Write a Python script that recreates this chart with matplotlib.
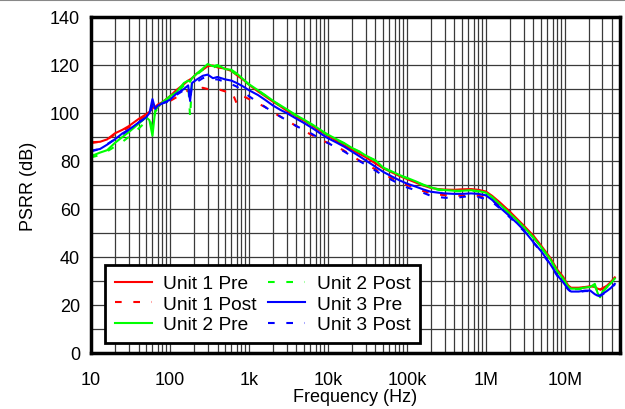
import matplotlib
matplotlib.use("Agg")
import matplotlib.pyplot as plt
from matplotlib.lines import Line2D
from matplotlib.ticker import FixedLocator, NullFormatter, LogLocator

plt.rcParams['font.family'] = ['Liberation Sans', 'DejaVu Sans']

freq = [10, 13, 16, 20, 25, 30, 40, 50, 55, 60, 65, 70, 80, 100, 120, 150, 170, 180, 190,
        220, 260, 300, 350, 400, 500, 600, 700, 850, 1e3, 1.3e3, 1.6e3, 2e3, 2.5e3, 3e3,
        4e3, 5e3, 6.5e3, 8e3, 1e4, 1.3e4, 1.6e4, 2e4, 2.5e4, 3e4, 4e4, 5e4, 6.5e4, 8e4,
        1e5, 1.3e5, 1.6e5, 2e5, 2.5e5, 3e5, 4e5, 5e5, 6.5e5, 8e5, 1e6, 1.2e6, 1.5e6, 2e6,
        2.5e6, 3e6, 4e6, 5e6, 6.5e6, 8e6, 9.5e6, 1.1e7, 1.2e7, 1.5e7, 1.8e7, 2.1e7, 2.4e7,
        2.6e7, 2.8e7, 3e7, 3.4e7, 3.8e7, 4.3e7]

unit1_pre = [87.8, 88, 89, 91.5, 93, 94.5, 97.5, 99.5, 100.5, 102, 102.5, 103.5, 104.5, 107,
             109.5, 112, 113.5, 114, 114.5, 116.5, 118, 119.5, 119.8, 119, 118.5, 117.5, 115.8,
             113.8, 111.8, 109, 107, 104.8, 102.8, 101, 98.5, 96.8, 94.5, 92.5, 90.5, 88.3,
             86.6, 84.8, 83, 81.6, 79, 77, 75.2, 73.8, 72.5, 71, 69.8, 68.8, 68.3, 68.1, 68,
             68.2, 68.3, 68, 67.3, 65.5, 62.8, 59, 55.8, 53.2, 48.9, 44.8, 39.8, 34.8, 31.8,
             28.2, 27.2, 27.2, 27.5, 27.8, 27.5, 26.8, 26.5, 27, 28, 29.5, 31.5]

unit1_post = [87.5, 88, 89, 91, 92.5, 94, 97, 99, 100, 101.5, 102, 102.5, 104, 105, 106.5,
              108, 109.5, 108.5, 109.5, 110, 110.5, 110, 110.3, 110, 109, 109.3, 104, 107,
              105.8, 104, 102.5, 100.3, 98.5, 97, 94.5, 92.6, 90.5, 89, 87.5, 86, 84.3, 82.3,
              80.2, 78.8, 76.5, 74.6, 72.8, 71.4, 70, 68.7, 67.5, 66.6, 66, 65.8, 65.6, 65.5,
              65.6, 65.5, 64.8, 63.5, 61.5, 58, 55, 52.5, 48.2, 44.2, 39.2, 34.3, 31.3, 27.8,
              27, 27, 27.3, 27.6, 27.3, 26.6, 26.3, 26.8, 27.8, 29.3, 31.3]

unit2_pre = [82, 83.5, 84.5, 87.5, 90, 92, 95.5, 98.2, 97, 90.5, 101, 102.5, 104.4, 107,
             108.6, 112.5, 113.5, 113, 114.5, 116.5, 118.5, 120.4, 119.5, 120, 118.3, 118,
             116.5, 114, 112, 109.5, 107.5, 105.2, 103.2, 101.6, 99, 97.2, 95, 93, 91, 89,
             87.5, 85.5, 84, 82.3, 80.3, 77.3, 75.6, 74.2, 73, 71.5, 70.2, 69, 68.2, 67.9,
             67.6, 67.6, 67.8, 67.5, 66.8, 65, 62, 58.2, 55.2, 52.6, 48.2, 44.2, 39.2, 34.2,
             31, 27.7, 26.8, 26.8, 27.3, 27.5, 28.8, 25, 23.2, 25.5, 27.5, 29, 31]

unit2_post = [81.5, 82.5, 84, 86, 88, 90, 93.5, 96.5, 97.5, 94, 100.5, 102, 103.5, 106, 108,
              111.5, 112.5, 98.2, 113.5, 116, 118, 119.5, 119, 119.5, 118, 117.5, 116, 113.8,
              111.8, 109.3, 107.3, 105, 103, 101.4, 98.8, 97, 94.8, 92.8, 90.8, 88.8, 87.3,
              85.3, 83.8, 82.1, 80.1, 77.1, 75.4, 74, 72.8, 71.3, 70, 68.8, 68, 67.7, 67.4,
              67.4, 67.6, 67.3, 66.6, 64.8, 61.8, 58, 55, 52.4, 48, 44, 39, 34, 30.8, 27.5,
              26.6, 26.6, 27.1, 27.3, 27.8, 25.5, 23.8, 25.3, 27.3, 28.8, 30.8]

unit3_pre = [84.3, 85, 86.8, 89, 91.5, 93, 96, 98.2, 100, 105.8, 101.7, 103, 104, 105.5, 108,
             110, 111.5, 105, 112.5, 114, 115.5, 116, 114.5, 115, 114, 113.5, 112.5, 111,
             109.5, 107.5, 105.5, 103.2, 101.3, 100, 97.6, 95.8, 93.5, 91.5, 89.5, 87.6, 86,
             84, 82, 80.3, 77.6, 75.5, 73.5, 72, 70.6, 69.3, 68.2, 67.2, 66.8, 66.5, 66.3,
             66.3, 66.5, 66.3, 65.7, 63.8, 60.7, 57, 54, 51.3, 46.2, 42.5, 37.2, 32.5, 29.5,
             26.7, 25.6, 25.6, 26, 26, 24.5, 23.9, 24, 24.6, 25.8, 27, 28.8]

unit3_post = [84, 85, 87, 89, 91, 93, 96, 98, 99.5, 103, 101.5, 102.5, 104, 105, 107.5, 109.5,
              111, 104.5, 112, 113, 114.5, 115, 114, 114, 113, 112, 111, 109, 107, 104.5,
              102.5, 100.5, 98.5, 97, 94.5, 93, 91, 89.2, 87.5, 85.5, 84, 82, 80, 78.5, 76,
              74, 72, 70.5, 69, 67.8, 66.8, 65.5, 65, 64.7, 64.6, 65, 65.5, 65, 64.2, 63,
              60.3, 56.6, 53.6, 51, 46, 42.2, 37, 32.2, 29.2, 26.5, 25.4, 25.4, 25.8, 25.8,
              24.3, 23.7, 23.8, 24.4, 25.6, 26.8, 28.6]

labels = ['Unit 1 Pre', 'Unit 1 Post', 'Unit 2 Pre', 'Unit 2 Post', 'Unit 3 Pre', 'Unit 3 Post']
series = [unit1_pre, unit1_post, unit2_pre, unit2_post, unit3_pre, unit3_post]
colors = ['#ff0000', '#ff0000', '#00ff00', '#00ff00', '#0000ff', '#0000ff']
styles = ['-', (0, (3.2, 5.6)), '-', (0, (3.2, 5.6)), '-', (0, (3.2, 5.6))]

xticks = [10, 100, 1e3, 1e4, 1e5, 1e6, 1e7]
xticklabels = ['10', '100', '1k', '10k', '100k', '1M', '10M']
yticks = [0, 20, 40, 60, 80, 100, 120, 140]

fig = plt.figure(figsize=(6.25, 4.10), dpi=100)
ax = fig.add_axes([91/625, 56/410, 529/625, 336/410])

for y, lab, c, ls in zip(series, labels, colors, styles):
    ax.plot(freq, y, color=c, linestyle=ls, linewidth=1.5, label=lab)

ax.set_xscale('log')
ax.set_xlim(10, 5e7)
ax.set_ylim(0, 140)
ax.set_xticks(xticks)
ax.set_xticklabels(xticklabels)
ax.xaxis.set_minor_locator(LogLocator(base=10, subs=range(2, 10), numticks=20))
ax.xaxis.set_minor_formatter(NullFormatter())
ax.set_yticks(yticks)
ax.yaxis.set_minor_locator(FixedLocator(list(range(10, 140, 20))))
ax.grid(True, which='both', color='#3a3a3a', linewidth=0.9)
ax.set_axisbelow(True)
ax.tick_params(which='both', length=0, labelsize=13)
ax.tick_params(axis='x', pad=13)
ax.tick_params(axis='y', pad=8)
for s in ax.spines.values():
    s.set_linewidth(2.5)
    s.set_color('black')

ax.set_xlabel('Frequency (Hz)', fontsize=13, labelpad=0)
ax.set_ylabel('PSRR (dB)', fontsize=13, labelpad=9)

leg = ax.legend(ncol=2, loc='lower left', bbox_to_anchor=(14/529, 10/336),
                borderaxespad=0, fontsize=13.8, handlelength=1.93, handletextpad=0.6,
                columnspacing=0.6, labelspacing=0.16, borderpad=0.5, fancybox=False,
                framealpha=1, edgecolor='black')
leg.get_frame().set_linewidth(2)

fig.add_artist(Line2D([0, 1], [1 - 1/410, 1 - 1/410], color='#888888', linewidth=1.5,
                      transform=fig.transFigure))

fig.savefig('out.png', dpi=100)
